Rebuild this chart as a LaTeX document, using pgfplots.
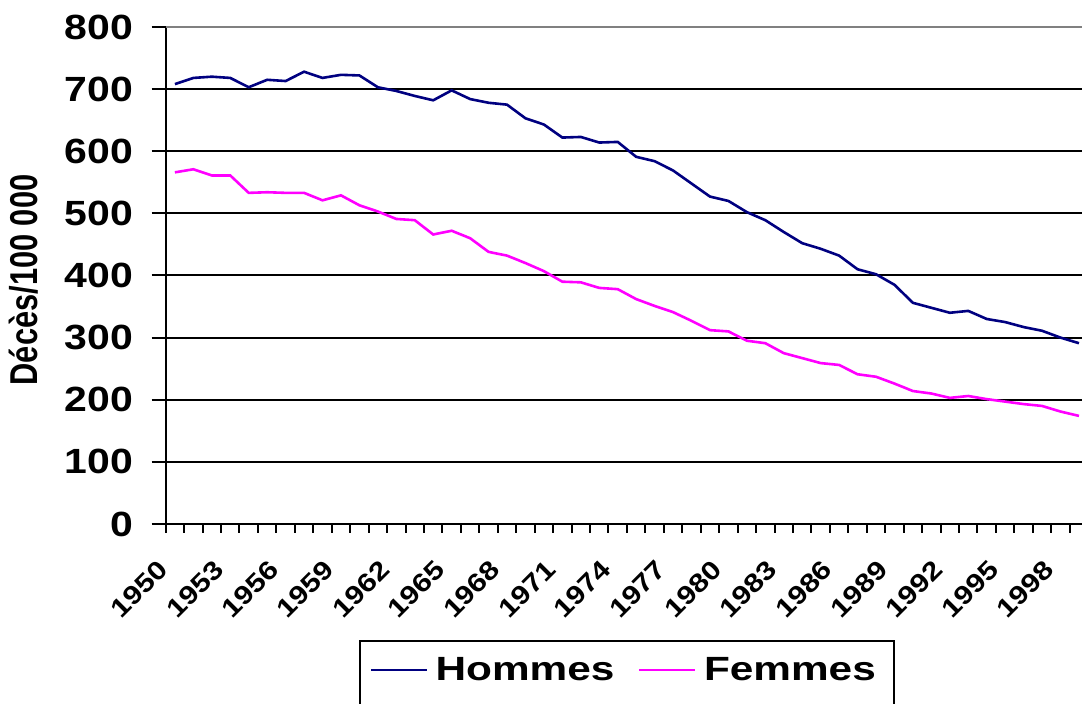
\documentclass[border=0pt]{standalone}
\usepackage{fontspec}
\setmainfont{Liberation Sans}
\newfontfamily\wfont{Liberation Sans}[FakeStretch=1.26]
\newfontfamily\tfont{Liberation Sans}[FakeStretch=1.17]
\usepackage{graphicx}
\usepackage{pgfplots}
\usepackage{pgfplotstable}
\pgfplotsset{compat=1.18}
\definecolor{hom}{HTML}{000080}
\definecolor{fem}{HTML}{FF00FF}
\pgfplotstableread{
year H F
1950 708 566
1951 718 571
1952 720 561
1953 718 561
1954 703 533
1955 715 534
1956 713 533
1957 728 533
1958 718 521
1959 723 529
1960 722 513
1961 703 503
1962 697 491
1963 689 489
1964 682 466
1965 698 472
1966 684 460
1967 678 438
1968 675 432
1969 653 420
1970 643 407
1971 622 390
1972 623 389
1973 614 380
1974 615 378
1975 591 362
1976 584 351
1977 569 341
1978 548 327
1979 527 312
1980 520 310
1981 502 295
1982 489 291
1983 470 275
1984 452 267
1985 443 259
1986 432 256
1987 410 241
1988 402 237
1989 385 226
1990 356 214
1991 348 210
1992 340 203
1993 343 206
1994 330 201
1995 325 197
1996 317 193
1997 311 190
1998 300 181
1999 291 174
}\mydata
\begin{document}
\begin{tikzpicture}
\begin{axis}[
  at={(0,0)}, anchor=south west,
  scale only axis, width=461.25pt, height=248.5pt,
  xmin=1949.5, xmax=1999.5, ymin=0, ymax=800,
  axis x line*=bottom, axis y line*=left,
  axis line style={line width=1pt, black},
  tick align=outside,
  /pgf/number format/assume math mode=true,
  ytick={0,100,...,700},
  extra y ticks={800},
  extra y tick style={ymajorgrids=true, grid style={draw=gray, line width=1pt}},
  ymajorgrids, grid style={black, line width=1pt},
  yticklabel style={font=\tfont\bfseries\fontsize{17.5}{19}\selectfont, anchor=east, inner sep=0pt, xshift=-9pt},
  ytick style={line width=1pt, black},
  major tick length=7pt,
  xtick={1949.5,1950.5,...,2000},
  xticklabels={},
  xtick style={line width=1pt, black, /pgfplots/major tick length=4.5pt},
  extra x ticks={1950,1953,...,1998},
  extra x tick labels={1950,1953,1956,1959,1962,1965,1968,1971,1974,1977,1980,1983,1986,1989,1992,1995,1998},
  extra x tick style={tick style={draw=none}},
  xticklabel style={font=\tfont\bfseries\fontsize{13}{15}\selectfont, inner sep=0pt, anchor=north east, xshift=-9pt, yshift=-10pt, rotate=45},
  every axis y label/.style={at={(axis description cs:-0.1536,0.491)}, rotate=90, anchor=center},
  ylabel={\scalebox{1}[1.26]{\bfseries\fontsize{15.4}{17}\selectfont Décès/100 000}},
  legend columns=2,
  legend style={at={(axis description cs:0.5,-0.2334)}, anchor=north, draw=black, line width=1pt,
    font=\wfont\bfseries\fontsize{16.8}{18}\selectfont, inner xsep=5pt, inner ysep=6pt,
    nodes={inner xsep=4pt},
    /tikz/every even column/.append style={column sep=8pt}},
  legend image code/.code={\draw[#1, line width=1pt] (0pt,0pt) -- (27.8pt,0pt);},
]
\addplot[hom, line width=1.3pt] table[x=year, y=H] {\mydata};
\addlegendentry{Hommes}
\addplot[fem, line width=1.3pt] table[x=year, y=F] {\mydata};
\addlegendentry{Femmes}
\addlegendimage{empty legend}\addlegendentry{}
\addlegendimage{empty legend}\addlegendentry{}
\end{axis}
\pgfresetboundingbox
\path[use as bounding box] (-82.85pt,-90pt) rectangle (458.15pt,262pt);
\end{tikzpicture}
\end{document}
